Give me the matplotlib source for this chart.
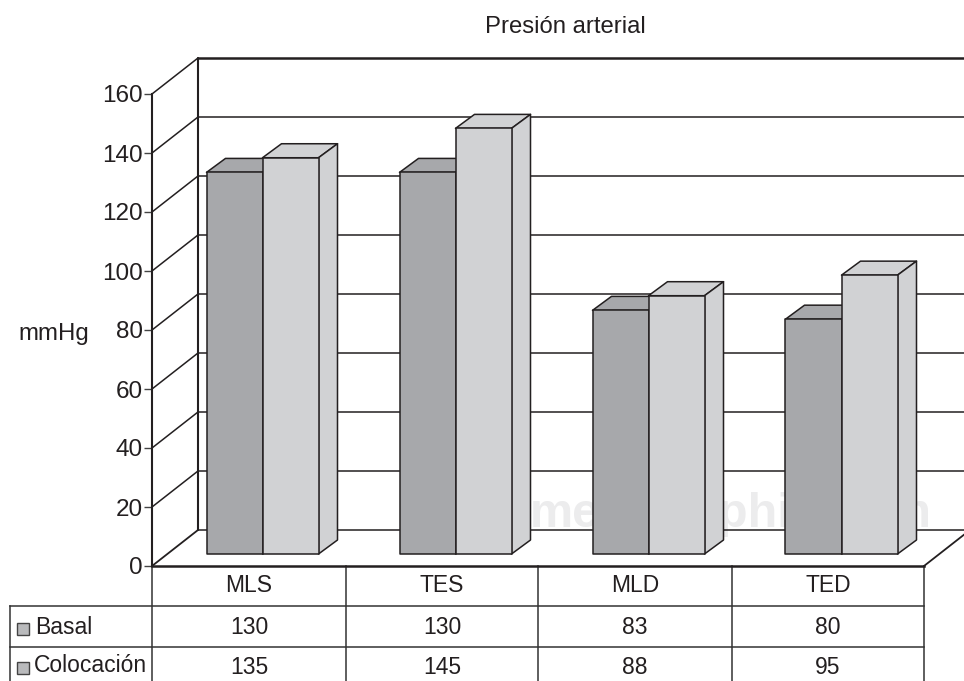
import matplotlib
matplotlib.use("Agg")
import matplotlib.pyplot as plt
from matplotlib.patches import Polygon

categories = ["MLS", "TES", "MLD", "TED"]
basal = [130, 130, 83, 80]
colocacion = [135, 145, 88, 95]
y_ticks = [0, 20, 40, 60, 80, 100, 120, 140, 160]
title = "Presión arterial"
y_label = "mmHg"

W, H = 964, 681
C_BASAL = "#a7a8ab"
C_COLOC = "#d1d2d4"
INK = "#231f20"
plt.rcParams["font.family"] = ["Liberation Sans", "DejaVu Sans"]

fig = plt.figure(figsize=(W / 100, H / 100), dpi=100, facecolor="white")

pix = fig.add_axes([0, 0, 1, 1])
pix.set_xlim(0, W)
pix.set_ylim(H, 0)
pix.axis("off")

L, R, T, B = 152, 924, 94, 566
ax = fig.add_axes([L / W, 1 - B / H, (R - L) / W, (B - T) / H])
ax.set_xlim(0, len(categories))
ax.set_ylim(0, 160)
ax.patch.set_alpha(0)
for s in ax.spines.values():
    s.set_visible(False)
ax.spines["left"].set_visible(True)
ax.spines["left"].set_linewidth(1.5)
ax.spines["left"].set_color(INK)
ax.spines["bottom"].set_visible(True)
ax.spines["bottom"].set_linewidth(1.8)
ax.spines["bottom"].set_color(INK)
ax.set_xticks([])
ax.set_yticks(y_ticks)
ax.tick_params(axis="y", labelsize=17.5, length=5.8, width=1, color="#444444",
               labelcolor=INK, pad=0.8)

ux = (R - L) / len(categories)
uy = (B - T) / 160
wall_dx, wall_dy = 46 / ux, 36 / uy
bar_dx, bar_dy = 19 / ux, 14 / uy
base_dx, base_dy = 14 / ux, 12 / uy
bar_w = 56 / ux
bar_scale = 0.995     # bars rise slightly less per unit than the axis ticks
line_kw = dict(color=INK, clip_on=False, solid_capstyle="round")

pix.text(530, 527, "medigraphic.com", ha="left", va="baseline", fontsize=35,
         color="#ececed", fontweight="bold", zorder=0)

for v in y_ticks:
    lw = 1.8 if v == 160 else 1.1
    if v > 0:
        ax.plot([0, wall_dx], [v, v + wall_dy], lw=1.1, zorder=1, **line_kw)
    ax.plot([wall_dx, (W - L) / ux], [v + wall_dy, v + wall_dy], lw=lw, zorder=1, **line_kw)
ax.plot([0, wall_dx], [0, wall_dy], lw=1.3, zorder=1, **line_kw)
ax.plot([wall_dx, wall_dx], [wall_dy, 160 + wall_dy], lw=1.5, zorder=1, **line_kw)
ax.plot([len(categories), len(categories) + wall_dx], [0, wall_dy], lw=1.3, zorder=1, **line_kw)


def bar3d(x0, value, color, z):
    x1 = x0 + bar_w
    y0 = base_dy
    y1 = base_dy + value * bar_scale
    edge = dict(edgecolor=INK, linewidth=1.1, clip_on=False, joinstyle="round")
    ax.add_patch(Polygon([(x0, y1), (x0 + bar_dx, y1 + bar_dy), (x1 + bar_dx, y1 + bar_dy), (x1, y1)],
                         facecolor=color, zorder=z, **edge))
    ax.add_patch(Polygon([(x1, y0), (x1 + bar_dx, y0 + bar_dy), (x1 + bar_dx, y1 + bar_dy), (x1, y1)],
                         facecolor=color, zorder=z, **edge))
    ax.add_patch(Polygon([(x0, y0), (x1, y0), (x1, y1), (x0, y1)],
                         facecolor=color, zorder=z + 0.1, **edge))


for i in range(len(categories)):
    center = i + 0.5 + base_dx
    bar3d(center - bar_w, basal[i], C_BASAL, 3)
    bar3d(center, colocacion[i], C_COLOC, 4)

col_x = [152, 346, 538, 732, 924]
row_y = [566, 606, 647, 681]
left = 10
pk = dict(color="#333333", lw=1.1, clip_on=True, zorder=2)
for x in col_x:
    pix.plot([x, x], [row_y[0], H], **pk)
pix.plot([left, left], [row_y[1], H], **pk)
pix.plot([left, col_x[-1]], [row_y[1], row_y[1]], **pk)
pix.plot([left, col_x[-1]], [row_y[2], row_y[2]], **pk)

tk = dict(ha="center", va="center", fontsize=16.5, color=INK)
for i, c in enumerate(categories):
    xc = (col_x[i] + col_x[i + 1]) / 2
    pix.text(xc, 586, c, **tk)
    pix.text(xc, 628, str(basal[i]), **tk)
    pix.text(xc, 667, str(colocacion[i]), **tk)

for key_y, text_y, name, tx in [(629, 628, "Basal", 35), (668, 666, "Colocación", 34)]:
    pix.add_patch(Polygon([(17, key_y - 6), (29, key_y - 6), (29, key_y + 6), (17, key_y + 6)],
                          facecolor="#b9babc", edgecolor="#444444", linewidth=1.0))
    pix.text(tx, text_y, name, ha="left", va="center", fontsize=16.5, color=INK)

pix.text(565, 27, title, ha="center", va="center", fontsize=17.2, color=INK)
pix.text(54, 334, y_label, ha="center", va="center", fontsize=17.3, color=INK)

fig.savefig("out.png", dpi=100, facecolor="white")
